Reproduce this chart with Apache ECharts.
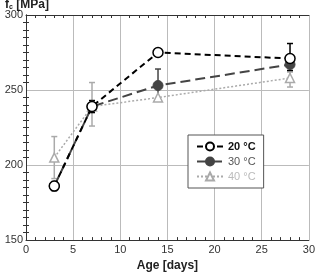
<!DOCTYPE html>
<html>
<head>
<meta charset="utf-8">
<script src="https://cdn.jsdelivr.net/npm/echarts@6/dist/echarts.min.js"></script>
<style>
  html, body { margin: 0; padding: 0; background: #fff; }
  #chart { width: 318px; height: 277px; }
</style>
</head>
<body>
<div id="chart"></div>
<script>
// age in days
const ages = [3, 7, 14, 28];
const names = ['20 °C', '30 °C', '40 °C'];
// mean strength, MPa
const s20 = [186, 239, 275, 271];
const s30 = [186, 239, 253, 267];
const s40 = [205, 239, 245, 258];
// error bars [age, low, high]
const err20 = [[3, 183, 189], [7, 235, 243], [28, 263, 281]];
const err30 = [[14, 243, 264], [28, 265, 270]];
const err40 = [[3, 191, 219], [7, 226, 255], [28, 252, 262]];

const colors = ['#000000', '#444444', '#aaaaaa'];

function errSeries(data, color) {
  return {
    type: 'custom',
    data: data,
    z: 1,
    silent: true,
    renderItem: function (params, api) {
      const x = api.value(0);
      const lo = api.coord([x, api.value(1)]);
      const hi = api.coord([x, api.value(2)]);
      const w = 3;
      const style = { stroke: color, lineWidth: 1.5 };
      return {
        type: 'group',
        children: [
          { type: 'line', shape: { x1: lo[0], y1: lo[1], x2: hi[0], y2: hi[1] }, style: style },
          { type: 'line', shape: { x1: lo[0] - w, y1: lo[1], x2: lo[0] + w, y2: lo[1] }, style: style },
          { type: 'line', shape: { x1: hi[0] - w, y1: hi[1], x2: hi[0] + w, y2: hi[1] }, style: style }
        ]
      };
    }
  };
}

const zip = arr => ages.map((a, i) => [a, arr[i]]);

const labelFont = { fontFamily: 'Liberation Sans', fontSize: 11, color: '#333' };
const minor = n => ({ show: true, splitNumber: n, length: 3, lineStyle: { color: '#333' } });

const chart = echarts.init(document.getElementById('chart'));
chart.setOption({
  animation: false,
  title: {
    text: '{a|f}{b|c}{a| [MPa]}',
    left: 0,
    top: -6,
    textStyle: {
      rich: {
        a: { fontFamily: 'Liberation Sans', fontWeight: 'bold', fontSize: 12, color: '#222' },
        b: { fontFamily: 'Liberation Sans', fontWeight: 'bold', fontSize: 7, color: '#222', verticalAlign: 'bottom' }
      }
    }
  },
  grid: { left: 26, right: 4, top: 15, bottom: 30 },
  legend: {
    orient: 'vertical',
    left: 188,
    top: 135,
    width: 74,
    padding: [6, 8, 6, 8],
    itemGap: 4,
    itemWidth: 26,
    itemHeight: 10,
    borderColor: '#555',
    borderWidth: 1,
    backgroundColor: '#fff',
    data: [
      { name: names[0], textStyle: { color: '#111', fontWeight: 'bold' } },
      { name: names[1], textStyle: { color: '#555' } },
      { name: names[2], textStyle: { color: '#bbb' } }
    ],
    textStyle: { fontFamily: 'Liberation Sans', fontSize: 11 }
  },
  xAxis: [{
    type: 'value',
    min: 0, max: 30, interval: 5,
    name: 'Age [days]',
    nameLocation: 'middle',
    nameGap: 16,
    nameTextStyle: { fontFamily: 'Liberation Sans', fontWeight: 'bold', fontSize: 12, color: '#222' },
    axisLine: { lineStyle: { color: '#333', width: 1 } },
    axisTick: { inside: true, length: 0 },
    minorTick: minor(5),
    axisLabel: Object.assign({ margin: 4 }, labelFont),
    splitLine: { show: true, lineStyle: { color: '#bbb', width: 1 } }
  }, {
    type: 'value', position: 'top',
    min: 0, max: 30, interval: 5,
    axisLine: { lineStyle: { color: '#333', width: 1 } },
    axisTick: { inside: true, length: 0 },
    minorTick: minor(5),
    axisLabel: { show: false },
    splitLine: { show: false }
  }],
  yAxis: [{
    type: 'value',
    min: 150, max: 300, interval: 50,
    axisLine: { show: true, lineStyle: { color: '#333', width: 1 } },
    axisTick: { show: true, inside: true, length: 0 },
    minorTick: minor(10),
    axisLabel: Object.assign({ margin: 3 }, labelFont),
    splitLine: { show: true, lineStyle: { color: '#bbb', width: 1 } }
  }, {
    type: 'value', position: 'right',
    min: 150, max: 300, interval: 50,
    axisLine: { show: true, lineStyle: { color: '#333', width: 1 } },
    axisTick: { show: true, inside: true, length: 0 },
    minorTick: minor(10),
    axisLabel: { show: false },
    splitLine: { show: false }
  }],
  series: [
    errSeries(err40, colors[2]),
    errSeries(err30, colors[1]),
    errSeries(err20, colors[0]),
    {
      name: names[2], type: 'line', data: zip(s40), z: 3,
      symbol: 'triangle', symbolSize: 9,
      lineStyle: { color: colors[2], width: 1.5, type: [2, 2] },
      itemStyle: { color: '#fff', borderColor: colors[2], borderWidth: 1.5 }
    },
    {
      name: names[1], type: 'line', data: zip(s30), z: 4,
      symbol: 'circle', symbolSize: 10,
      lineStyle: { color: colors[1], width: 2, type: [10, 5] },
      itemStyle: { color: colors[1], borderColor: colors[1], borderWidth: 1 }
    },
    {
      name: names[0], type: 'line', data: zip(s20), z: 5,
      symbol: 'circle', symbolSize: 10,
      lineStyle: { color: colors[0], width: 2, type: [6, 4] },
      itemStyle: { color: '#fff', borderColor: colors[0], borderWidth: 1.5 }
    }
  ]
});
</script>
</body>
</html>
